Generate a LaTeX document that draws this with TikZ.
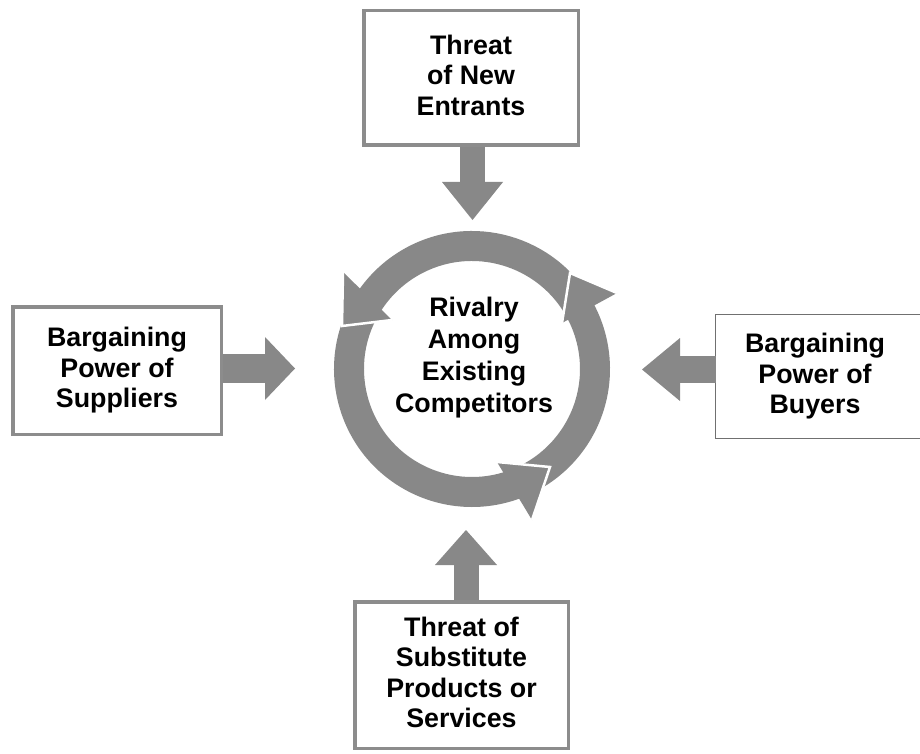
\documentclass[tikz,border=0pt]{standalone}
\usepackage{fontspec}
\setmainfont{Liberation Sans}
\usetikzlibrary{arrows.meta}
\definecolor{arrowgray}{RGB}{136,136,136}
\definecolor{framegray}{RGB}{140,140,140}
\definecolor{thingray}{RGB}{112,112,112}
\begin{document}
\begin{tikzpicture}[x=1pt,y=1pt,
  txt/.style={font=\fontsize{26.8pt}{30.5pt}\selectfont\bfseries, align=center,
    execute at begin node={\rule{0pt}{19.6pt}},
    execute at end node={\rule[-5.7pt]{0pt}{5.7pt}}},
  forcebox/.style={txt, draw=framegray, line width=3.5pt, fill=white, inner sep=0pt},
  thinframe/.style={draw=thingray, line width=1.2pt},
  ringbody/.style={draw=arrowgray, line width=30pt, line cap=butt},
  headgap/.style={draw=white, line width=2.5pt},
  forcearrow/.style n args={3}{draw=arrowgray, line width=#1,
    -{Triangle[width=#2 0 0, length=#3 0 0, line width=0pt 0 0]}}]

% page
\fill[white] (0,0) rectangle (920,-754);
\useasboundingbox (0,0) rectangle (920,-754);

% the five forces
\node[forcebox, minimum width=214.5pt, minimum height=134.5pt] (entrants) at (471,-78)
  {Threat\\of New\\Entrants};
\node[forcebox, minimum width=208.5pt, minimum height=127.5pt] (suppliers) at (117,-370.5)
  {Bargaining\\Power of\\Suppliers};
\node[txt, inner sep=0pt, minimum width=198pt, minimum height=123pt] (buyers) at (815,-376.5)
  {Bargaining\\Power of\\Buyers};
\node[forcebox, minimum width=213.5pt, minimum height=146.5pt] (substitutes) at (461.5,-675)
  {Threat of\\Substitute\\Products or\\Services};
\node[txt, font=\fontsize{26.8pt}{32pt}\selectfont\bfseries] (rivalry) at (474,-358)
  {Rivalry\\Among\\Existing\\Competitors};

% open frame of the buyers box, running off the right edge
\draw[thinframe] ([xshift=6pt]buyers.north east) -- (buyers.north west)
  -- (buyers.south west) -- ([xshift=6pt]buyers.south east);

% cycle of three curved arrows around the rivalry text
\coordinate (ringc) at (472,-369);
\draw[ringbody] ([shift={(29:123)}]ringc) arc[start angle=29, end angle=149, radius=123];
\draw[ringbody] ([shift={(149:123)}]ringc) arc[start angle=149, end angle=294, radius=123];
\draw[ringbody] ([shift={(-66:123)}]ringc) arc[start angle=-66, end angle=29, radius=123];

% heads, each cut off from the next tail by a thin white gap
\fill[arrowgray] (343,-272) -- (342,-326) -- (392,-320) -- cycle;
\draw[headgap] (343,-272) -- (342,-326) -- (392,-320);
\fill[arrowgray] (617,-293) -- (570,-273) -- (562,-323) -- cycle;
\draw[headgap] (617,-293) -- (570,-273) -- (562,-323);
\fill[arrowgray] (497,-462) -- (550,-467) -- (532,-520) -- cycle;
\draw[headgap] (497,-462) -- (550,-467) -- (532,-520);

% block arrows from each force towards the rivalry
\coordinate (tN) at (472.5,-220);
\coordinate (tW) at (295,-368.5);
\coordinate (tE) at (642,-369.5);
\coordinate (tS) at (466,-530);
\draw[forcearrow={25pt}{61pt}{38pt}] (entrants.south -| tN) -- (tN);
\draw[forcearrow={29pt}{63pt}{30pt}] (suppliers.east |- tW) -- (tW);
\draw[forcearrow={27pt}{63pt}{38pt}] (buyers.west |- tE) -- (tE);
\draw[forcearrow={25pt}{62pt}{35pt}] (substitutes.north -| tS) -- (tS);
\end{tikzpicture}
\end{document}
